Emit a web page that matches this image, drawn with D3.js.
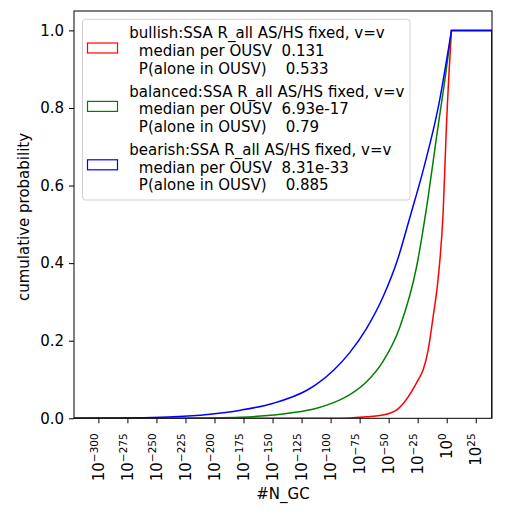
<!DOCTYPE html>
<html><head><meta charset="utf-8">
<script src="https://cdn.jsdelivr.net/npm/d3@7"></script>
<style>
body{margin:0;background:#fff;}
text{font-family:"DejaVu Sans",sans-serif;}
</style></head><body>
<svg id="c" width="508" height="517"></svg>
<script>
// ---- data ----
const seriesNames = ["bullish:SSA R_all AS/HS fixed, v=v",
                     "balanced:SSA R_all AS/HS fixed, v=v",
                     "bearish:SSA R_all AS/HS fixed, v=v"];
const seriesColors = ["#ff0000", "#008000", "#0000ff"];
const medians = ["0.131", "6.93e-17", "8.31e-33"];
const pAlone = ["0.533", "0.79", "0.885"];

// x values are log10(#N_GC); cumulative probability at each
const bullishExp = [-321, -100, -83, -69, -57.6, -43, -24.6, -20.3, -16, -11.7, -7.4, -3.1, -0.2, 4.1, 39];
const bullishP   = [0, 0, 0.001, 0.004, 0.007, 0.022, 0.099, 0.125, 0.176, 0.262, 0.36, 0.53, 0.757, 1, 1];
const balancedExp = [-321, -235, -206, -177.5, -149, -120, -112, -97, -83.4, -69, -55, -40.4, -26, -16, -8.8, -1.7, 4.1, 39];
const balancedP   = [0, 0.0002, 0.0008, 0.0026, 0.0085, 0.0205, 0.026, 0.041, 0.061, 0.094, 0.146, 0.235, 0.39, 0.57, 0.725, 0.87, 1, 1];
const bearishExp = [-321, -290, -263.5, -235, -206, -177.5, -149, -120, -112, -97, -83.4, -69, -55, -42, -32, -19, -7.4, 4.1, 39];
const bearishP   = [0, 0.0005, 0.0015, 0.004, 0.010, 0.021, 0.039, 0.073, 0.088, 0.125, 0.170, 0.232, 0.312, 0.412, 0.515, 0.654, 0.80, 1, 1];

const xTickExps = [-300, -275, -250, -225, -200, -175, -150, -125, -100, -75, -50, -25, 0, 25];
const yTicks = [0, 0.2, 0.4, 0.6, 0.8, 1.0];
const xLabel = "#N_GC";
const yLabel = "cumulative probability";

(function () {
// ---- layout ----
const mL = 74, mR = 492, mT = 11, mB = 418.3;
const x = d3.scaleLinear().domain([-321, 39]).range([mL, mR]);
const y = d3.scaleLinear().domain([0, 1.05]).range([mB, mT]);
const svg = d3.select("#c");
svg.append("rect").attr("width", 508).attr("height", 517).attr("fill", "#fff");

svg.append("clipPath").attr("id", "clip").append("rect")
  .attr("x", mL).attr("y", mT).attr("width", mR - mL).attr("height", mB - mT);

const series = [
  {exp: bullishExp, p: bullishP},
  {exp: balancedExp, p: balancedP},
  {exp: bearishExp, p: bearishP}
];
const smooth = d3.line().x(d => x(d[0])).y(d => y(d[1])).curve(d3.curveMonotoneX);
const gLines = svg.append("g").attr("clip-path", "url(#clip)");
series.forEach((s, i) => {
  const pts = s.exp.map((e, k) => [e, s.p[k]]);
  const iTop = s.p.indexOf(1);
  const rising = pts.slice(0, iTop + 1);
  const last = pts[pts.length - 1];
  // rising part, then plateau, then drop to zero at the last bin edge
  const d = smooth(rising) + "L" + x(last[0]) + "," + y(last[1]) + "L" + x(last[0]) + "," + y(0);
  gLines.append("path").attr("d", d).attr("fill", "none")
    .attr("stroke", seriesColors[i]).attr("stroke-width", 1.5)
    .attr("stroke-linejoin", "miter");
});

// axes
const yAxis = svg.append("g").attr("transform", `translate(${mL},0)`)
  .call(d3.axisLeft(y).tickValues(yTicks).tickFormat(d3.format(".1f")).tickSize(5).tickSizeOuter(0).tickPadding(5));
yAxis.select(".domain").remove();
yAxis.selectAll("text").attr("font-size", 15).attr("fill", "#000").attr("font-family", "DejaVu Sans");
yAxis.selectAll("line").attr("stroke", "#000");

const xAxis = svg.append("g").attr("transform", `translate(0,${mB})`)
  .call(d3.axisBottom(x).tickValues(xTickExps).tickFormat("").tickSize(5).tickSizeOuter(0));
xAxis.select(".domain").remove();
xAxis.selectAll("line").attr("stroke", "#000");
xAxis.selectAll(".tick").each(function(e) {
  const t = d3.select(this).append("text")
    .attr("transform", "translate(0,15) rotate(-90)")
    .attr("text-anchor", "end").attr("fill", "#000")
    .attr("font-size", 15).attr("dy", 5);
  t.append("tspan").text("10");
  t.append("tspan").attr("font-size", 10.5).attr("dy", -6)
    .text(e < 0 ? "\u2212" + Math.abs(e) : String(e));
});

// frame
svg.append("rect").attr("x", mL).attr("y", mT).attr("width", mR - mL)
  .attr("height", mB - mT).attr("fill", "none").attr("stroke", "#000").attr("stroke-width", 1);

// labels
svg.append("text").attr("x", (mL + mR) / 2).attr("y", 499).attr("text-anchor", "middle")
  .attr("font-size", 15).attr("fill", "#000").text(xLabel);
svg.append("text").attr("transform", `translate(28.5,217) rotate(-90)`)
  .attr("text-anchor", "middle").attr("font-size", 15).attr("fill", "#000").text(yLabel);

// legend
const lg = svg.append("g");
lg.append("rect").attr("x", 82.5).attr("y", 19.3).attr("width", 327.5).attr("height", 180.7)
  .attr("rx", 3).attr("fill", "#fff").attr("fill-opacity", 0.8)
  .attr("stroke", "#d0d0d0").attr("stroke-width", 1);
seriesNames.forEach((name, i) => {
  const b = 38.3 + 58.4 * i;
  lg.append("rect").attr("x", 87.5).attr("y", b + 14.2 - 9.5).attr("width", 30).attr("height", 10)
    .attr("fill", "none").attr("stroke", seriesColors[i]).attr("stroke-width", 1.2);
  const lines = [name, "  median per OUSV  " + medians[i], "  P(alone in OUSV)    " + pAlone[i]];
  lines.forEach((ln, j) => {
    lg.append("text").attr("x", 129.3).attr("y", b + 17.6 * j)
      .attr("font-size", 15).attr("fill", "#000").style("white-space", "pre").text(ln);
  });
});
})();
</script>
</body></html>
